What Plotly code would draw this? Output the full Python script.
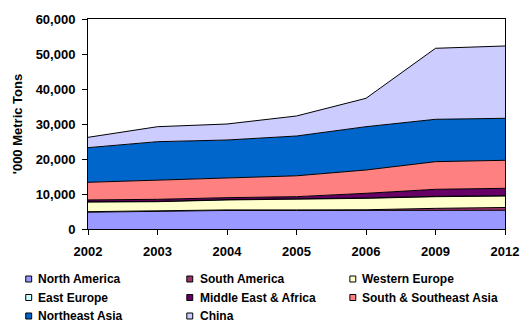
import plotly.graph_objects as go

years = ["2002", "2003", "2004", "2005", "2006", "2009", "2012"]

north_america = [4800, 5100, 5300, 5300, 5300, 5350, 5350]
south_america = [150, 150, 150, 150, 200, 550, 800]
western_europe = [2750, 2550, 2850, 3050, 3270, 3330, 3280]
east_europe = [100, 100, 100, 100, 100, 100, 100]
middle_east_africa = [500, 580, 550, 640, 1330, 2010, 2100]
south_se_asia = [5040, 5520, 5720, 5960, 6660, 7900, 8000]
northeast_asia = [9900, 10950, 10760, 11370, 12370, 12100, 12000]
china = [2950, 4280, 4570, 5720, 8110, 20290, 20660]

series_names = ["North America", "South America", "Western Europe", "East Europe",
                "Middle East & Africa", "South & Southeast Asia", "Northeast Asia", "China"]
series_values = [north_america, south_america, western_europe, east_europe,
                 middle_east_africa, south_se_asia, northeast_asia, china]
colors = ["#9999FF", "#993366", "#FFFFCC", "#CCFFFF", "#660066", "#FF8080", "#0066CC", "#CCCCFF"]

FONT = "Liberation Sans"

fig = go.Figure()
for name, vals, col in zip(series_names, series_values, colors):
    fig.add_trace(go.Scatter(
        x=years, y=vals, name=name, stackgroup="one", mode="lines",
        line=dict(color="black", width=1), fillcolor=col, showlegend=False,
        hoverinfo="x+y+name",
    ))

# plot area in pixels
L, R, T, B = 88, 510, 19, 229
W, H = 531, 333

def px_x(px):
    return (px - L) / (R - L)

def px_y(py):
    return (B - py) / (B - T)

# manual legend (3 columns)
col_sq = [25, 188, 353]
col_tx = [35, 199, 363]
row_y = [279, 297.5, 316]
shapes = []
annotations = []
for i, (name, col) in enumerate(zip(series_names, colors)):
    r, c = divmod(i, 3)
    cy = row_y[r]
    shapes.append(dict(type="rect", xref="paper", yref="paper",
                       x0=px_x(col_sq[c]), x1=px_x(col_sq[c] + 6),
                       y0=px_y(cy - 3), y1=px_y(cy + 3),
                       fillcolor=col, line=dict(color="black", width=1)))
    annotations.append(dict(text=name, xref="paper", yref="paper",
                            x=px_x(col_tx[c]), y=px_y(cy), xanchor="left", yanchor="middle",
                            showarrow=False,
                            font=dict(family=FONT, size=12, color="black", weight="bold")))

fig.update_layout(
    width=W, height=H,
    margin=dict(l=L, r=W - R, t=T, b=H - B),
    paper_bgcolor="white", plot_bgcolor="white",
    font=dict(family=FONT, size=12, color="black", weight="bold"),
    shapes=shapes, annotations=annotations,
    showlegend=False,
)
fig.update_xaxes(
    type="category", range=[0, 6], showline=True, mirror=True, linecolor="black", linewidth=1,
    ticks="outside", ticklen=5, tickcolor="black", showgrid=False, zeroline=False,
    ticklabelstandoff=5,
    tickfont=dict(family=FONT, size=13, color="black", weight="bold"),
)
fig.update_yaxes(
    range=[0, 60000], dtick=10000, tickformat=",", showline=True, mirror=True,
    linecolor="black", linewidth=1, ticks="outside", ticklen=5, tickcolor="black",
    showgrid=False, zeroline=False, ticklabelstandoff=4,
    tickfont=dict(family=FONT, size=13, color="black", weight="bold"),
    title=dict(text="'000 Metric Tons", standoff=10,
               font=dict(family=FONT, size=13, color="black", weight="bold")),
)

fig.write_html("out.html")
